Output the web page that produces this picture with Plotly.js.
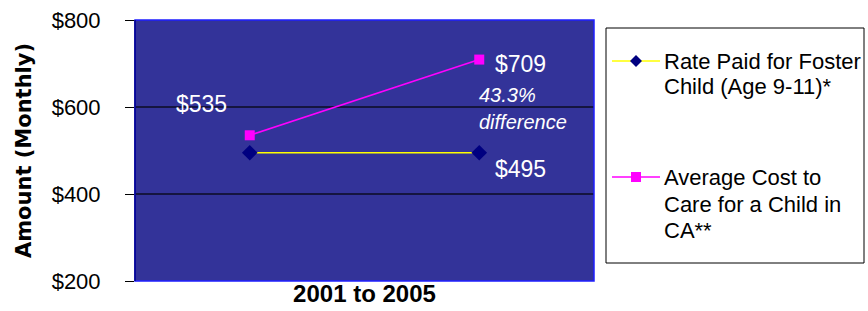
<!DOCTYPE html>
<html>
<head>
<meta charset="utf-8">
<script src="https://cdn.plot.ly/plotly-3.0.1.min.js"></script>
<style>html,body{margin:0;padding:0;background:#fff;}#chart{width:868px;height:311px;}</style>
</head>
<body>
<div id="chart"></div>
<script>
// Data
var categories = [0, 1];
var periodLabel = "2001 to 2005";
var rateSeriesName = ["Rate Paid for Foster", "Child (Age 9-11)*"];
var costSeriesName = ["Average Cost to", "Care for a Child in", "CA**"];
var rateValues = [495, 495];
var costValues = [535, 709];
var yTickVals = [200, 400, 600, 800];
var yTickText = ["$200", "$400", "$600", "$800"];
var diffNote = ["43.3%", "difference"];

var L = 135, R = 594, T = 20, B = 281, W = 868, H = 311;
function px(x){ return (x - L) / (R - L); }
function py(y){ return (B - y) / (B - T); }

var traces = [
  {x: categories, y: rateValues, type: 'scatter', mode: 'lines+markers',
   line: {color: '#ffff00', width: 1.5},
   marker: {symbol: 'diamond', size: 12, color: '#000080'}, hoverinfo: 'none'},
  {x: categories, y: costValues, type: 'scatter', mode: 'lines+markers',
   line: {color: '#ff00ff', width: 1.5},
   marker: {symbol: 'square', size: 10, color: '#ff00ff'}, hoverinfo: 'none'}
];

var whiteFont = {family: 'Liberation Sans, Arial, sans-serif', size: 23, color: '#ffffff'};
var italFont = {family: 'Liberation Sans, Arial, sans-serif', size: 20, color: '#ffffff', style: 'italic'};
var legFont = {family: 'Liberation Sans, Arial, sans-serif', size: 22, color: '#000000'};

var annotations = [
  {x: categories[0], y: costValues[0], xref: 'x', yref: 'y', text: '$' + costValues[0], showarrow: false,
   xanchor: 'center', yanchor: 'middle', xshift: -48, yshift: 31, font: whiteFont},
  {x: categories[1], y: costValues[1], xref: 'x', yref: 'y', text: '$' + costValues[1], showarrow: false,
   xanchor: 'left', yanchor: 'middle', xshift: 14, yshift: -4, font: whiteFont},
  {x: categories[1], y: rateValues[1], xref: 'x', yref: 'y', text: '$' + rateValues[1], showarrow: false,
   xanchor: 'left', yanchor: 'middle', xshift: 14, yshift: -16, font: whiteFont},
  {x: categories[1], y: costValues[1], xref: 'x', yref: 'y', text: diffNote[0], showarrow: false,
   xanchor: 'left', yanchor: 'middle', xshift: -2, yshift: -35, font: italFont},
  {x: categories[1], y: costValues[1], xref: 'x', yref: 'y', text: diffNote[1], showarrow: false,
   xanchor: 'left', yanchor: 'middle', xshift: -2, yshift: -62, font: italFont}
];

var legLines1 = [61, 87], legLines2 = [177, 204, 230];
rateSeriesName.forEach(function(t, i){
  annotations.push({x: px(662), y: py(legLines1[i]), xref: 'paper', yref: 'paper', text: t, showarrow: false,
    xanchor: 'left', yanchor: 'middle', font: legFont});
});
costSeriesName.forEach(function(t, i){
  annotations.push({x: px(662), y: py(legLines2[i]), xref: 'paper', yref: 'paper', text: t, showarrow: false,
    xanchor: 'left', yanchor: 'middle', font: legFont});
});

var shapes = [
  {type: 'rect', xref: 'paper', yref: 'paper', x0: 0, x1: 1, y0: 0, y1: 1,
   line: {color: '#1f1fff', width: 1.5}, layer: 'above'},
  {type: 'line', xref: 'paper', yref: 'paper', x0: 0, x1: 0, y0: 0, y1: 1,
   line: {color: '#000080', width: 1.5}, layer: 'above'},
  {type: 'rect', xref: 'paper', yref: 'paper', x0: px(606), x1: px(864), y0: py(263), y1: py(28),
   line: {color: '#000000', width: 1}, fillcolor: 'rgba(0,0,0,0)'},
  {type: 'line', xref: 'paper', yref: 'paper', x0: px(612), x1: px(660), y0: py(61), y1: py(61),
   line: {color: '#ffff00', width: 1.5}},
  {type: 'path', xref: 'paper', yref: 'paper', xsizemode: 'pixel', ysizemode: 'pixel',
   xanchor: px(636), yanchor: py(61), path: 'M -6 0 L 0 6 L 6 0 L 0 -6 Z',
   fillcolor: '#000080', line: {color: '#000080', width: 0}},
  {type: 'line', xref: 'paper', yref: 'paper', x0: px(612), x1: px(660), y0: py(177), y1: py(177),
   line: {color: '#ff00ff', width: 1.5}},
  {type: 'path', xref: 'paper', yref: 'paper', xsizemode: 'pixel', ysizemode: 'pixel',
   xanchor: px(636), yanchor: py(177), path: 'M -5 -5 L 5 -5 L 5 5 L -5 5 Z',
   fillcolor: '#ff00ff', line: {color: '#ff00ff', width: 0}}
];

var layout = {
  width: W, height: H,
  margin: {l: L, r: W - R, t: T, b: H - B, pad: 0},
  paper_bgcolor: '#ffffff', plot_bgcolor: '#333399',
  showlegend: false,
  xaxis: {range: [-0.5, 1.5], showticklabels: false, showgrid: false, zeroline: false, ticks: '',
    fixedrange: true, automargin: false,
    title: {text: periodLabel, standoff: 4,
      font: {family: 'Liberation Sans, Arial, sans-serif', size: 24, color: '#000000', weight: 'bold'}}},
  yaxis: {range: [200, 800], tickvals: yTickVals, ticktext: yTickText, ticks: 'outside', ticklen: 9,
    tickcolor: '#000000', tickwidth: 1, showgrid: true, gridcolor: '#151540', gridwidth: 1.2,
    zeroline: false, automargin: false, fixedrange: true, ticklabelstandoff: 20,
    tickfont: {family: 'Liberation Sans, Arial, sans-serif', size: 22, color: '#000000'},
    title: {text: 'Amount (Monthly)', standoff: 14,
      font: {family: 'DejaVu Sans, sans-serif', size: 21, color: '#000000', weight: 'bold'}}},
  annotations: annotations,
  shapes: shapes
};

Plotly.newPlot('chart', traces, layout, {displayModeBar: false, staticPlot: true});
</script>
</body>
</html>
